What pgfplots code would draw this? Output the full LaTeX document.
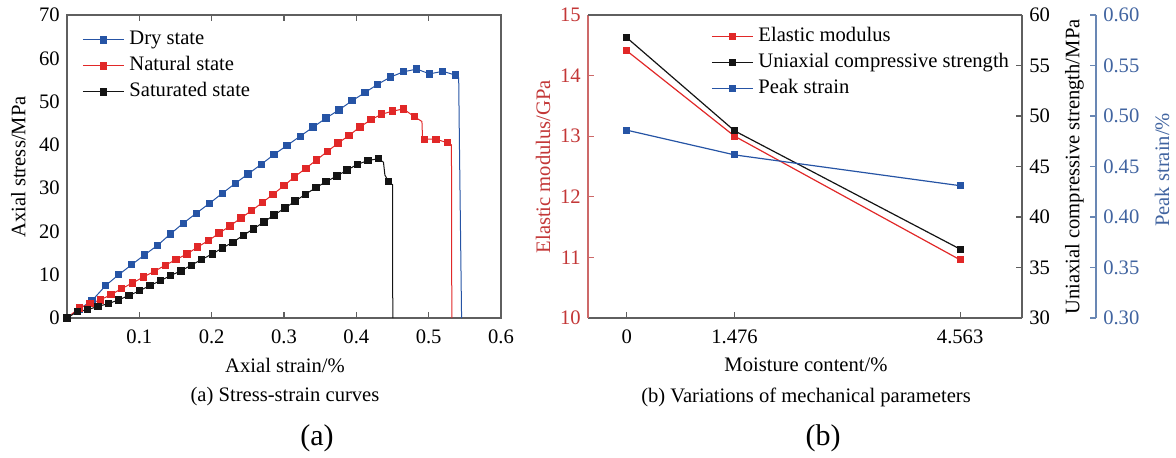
\documentclass[border=0pt]{standalone}
\usepackage{pgfplots}
\pgfplotsset{compat=1.18}
\usepackage{fontspec}
\setmainfont{Liberation Serif}
\definecolor{cblue}{RGB}{38,84,165}
\definecolor{cred}{RGB}{225,40,40}
\definecolor{cblack}{RGB}{20,20,20}
\definecolor{axgray}{RGB}{95,95,95}
\definecolor{axred}{RGB}{205,105,105}
\definecolor{axblue}{RGB}{105,135,180}
\definecolor{txtred}{RGB}{195,55,55}
\definecolor{txtblue}{RGB}{65,100,160}
\pgfplotsset{
  every axis/.append style={
    scale only axis, anchor=south west,
    /pgf/number format/assume math mode=true,
    tick label style={font=\fontsize{10.3}{12}\selectfont},
    xticklabel style={yshift=-2.5pt},
    axis line style={axgray, line width=0.6pt},
    tick style={axgray, line width=0.6pt},
    tick align=inside, major tick length=3pt,
    legend style={draw=none, fill=none, inner sep=0pt, font=\fontsize{10.3}{12}\selectfont,
      nodes={inner xsep=2.5pt, inner ysep=0pt, text height=7.5pt, text depth=2.5pt},
      row sep=3pt, anchor=west, legend cell align=left},
    legend image code/.code={\draw[mark repeat=2,mark phase=2,#1] plot coordinates {(0pt,0pt) (10.25pt,0pt) (20.5pt,0pt)};},
  },
}
\begin{document}
\fontsize{10.3}{12.4}\selectfont
\begin{tikzpicture}
\useasboundingbox (0,0) rectangle (588pt,228.5pt);
% ---------------- (a) ----------------
\begin{axis}[at={(33.5pt,69.5pt)}, width=217pt, height=151.5pt,
  xmin=0, xmax=0.6, ymin=0, ymax=70, clip=false,
  xtick={0.1,0.2,0.3,0.4,0.5,0.6}, ytick={0,10,20,30,40,50,60,70},
  ytick style={draw=none},
  legend style={at={(0.0346,0.832)}}]
\addlegendimage{cblue, line width=0.5pt, mark=square*, mark size=1.6pt, mark options={solid}}
\addlegendimage{cred, line width=0.5pt, mark=square*, mark size=1.6pt, mark options={solid}}
\addlegendimage{cblack, line width=0.5pt, mark=square*, mark size=1.6pt, mark options={solid}}
\addplot[cblue, line width=0.5pt, mark=square*, mark size=1.6pt, mark indices={1,...,31}, forget plot] coordinates {
(0,0) (0.017,2.1) (0.0345,4.0) (0.0534,7.5) (0.0714,10.0) (0.0893,12.3) (0.1073,14.6) (0.1253,16.8) (0.1428,19.4) (0.1607,21.9) (0.1787,24.2) (0.1971,26.5) (0.2146,28.8) (0.2326,31.1) (0.2505,33.3) (0.2685,35.5) (0.2864,37.8) (0.3044,39.9) (0.3224,42.0) (0.3403,44.1) (0.3583,46.2) (0.3762,48.1) (0.3942,50.2) (0.4121,52.1) (0.4296,54.0) (0.4476,55.7) (0.4656,56.9) (0.4835,57.5) (0.5015,56.4) (0.5194,57.0) (0.5374,56.1)
(0.5415,55.5) (0.5425,40.5) (0.5455,0)};
\addplot[cred, line width=0.5pt, mark=square*, mark size=1.6pt, mark indices={1,...,33,36,37,38}, forget plot] coordinates {
(0,0) (0.017,2.3) (0.032,3.3) (0.046,4.2) (0.061,5.4) (0.0755,6.8) (0.0907,8.1) (0.106,9.5) (0.121,10.8) (0.136,12.2) (0.1506,13.5) (0.166,14.8) (0.1805,16.4) (0.1957,17.9) (0.2104,19.6) (0.2256,21.3) (0.2404,23.1) (0.2551,24.8) (0.2703,26.7) (0.285,28.6) (0.3002,30.6) (0.3145,32.6) (0.3302,34.6) (0.3449,36.5) (0.3601,38.5) (0.3748,40.4) (0.39,42.2) (0.4048,44.1) (0.42,45.8) (0.4352,47.1) (0.4504,47.8) (0.4651,48.3) (0.4803,46.5)
(0.4907,45.4) (0.4915,41.6)
(0.4946,41.3) (0.5102,41.3) (0.5259,40.5)
(0.5315,40.0) (0.532,0)};
\addplot[cblack, line width=0.5pt, mark=square*, mark size=1.6pt, mark indices={1,...,31,34}, forget plot] coordinates {
(0,0) (0.0147,1.5) (0.0286,1.9) (0.0428,2.7) (0.0571,3.3) (0.0714,4.2) (0.0857,5.2) (0.1004,6.3) (0.1147,7.5) (0.1289,8.6) (0.1432,9.8) (0.1575,10.9) (0.1718,12.2) (0.186,13.5) (0.2008,14.8) (0.215,16.2) (0.2293,17.5) (0.2436,19.1) (0.2579,20.6) (0.2722,22.2) (0.2864,23.8) (0.3012,25.4) (0.3154,27.0) (0.3297,28.6) (0.344,30.1) (0.3583,31.5) (0.373,32.8) (0.3873,34.2) (0.4016,35.5) (0.4163,36.4) (0.4306,36.8)
(0.4375,36.0) (0.4395,33.0)
(0.4444,31.6)
(0.4500,30.8) (0.4504,0)};
\legend{Dry state, Natural state, Saturated state}
\end{axis}
% ---------------- (b) ----------------
\begin{axis}[at={(294pt,69.5pt)}, width=217pt, height=151.5pt,
  xmin=-0.53, xmax=5.41, ymin=10, ymax=15,
  axis x line*=bottom, axis y line*=left,
  xtick={0,1.476,4.563}, xticklabels={0,1.476,4.563},
  ytick={10,11,12,13,14,15},
  y axis line style={axred}, ytick style={axred}, yticklabel style={text=txtred},
  legend style={at={(0.283,0.843)}}]
\addlegendimage{cred, line width=0.6pt, mark=square*, mark size=1.5pt, mark options={solid}}
\addlegendimage{cblack, line width=0.6pt, mark=square*, mark size=1.5pt, mark options={solid}}
\addlegendimage{cblue, line width=0.6pt, mark=square*, mark size=1.5pt, mark options={solid}}
\addplot[cred, line width=0.6pt, mark=square*, mark size=1.5pt, forget plot] coordinates {(0,14.41) (1.476,13.0) (4.563,10.96)};
\legend{Elastic modulus, Uniaxial compressive strength, Peak strain}
\end{axis}
\begin{axis}[at={(294pt,69.5pt)}, width=217pt, height=151.5pt,
  xmin=-0.53, xmax=5.41, ymin=30, ymax=60,
  axis x line*=top, xtick=\empty, axis y line*=right,
  ytick={30,35,40,45,50,55,60}]
\addplot[cblack, line width=0.6pt, mark=square*, mark size=1.5pt] coordinates {(0,57.76) (1.476,48.53) (4.563,36.82)};
\end{axis}
\begin{axis}[at={(294pt,69.5pt)}, width=217pt, height=151.5pt,
  xmin=-0.53, xmax=5.41, ymin=0.3, ymax=0.6,
  hide x axis, axis y line*=right, axis y line shift=37pt,
  ytick={0.30,0.35,0.40,0.45,0.50,0.55,0.60},
  y axis line style={axblue}, ytick style={axblue},
  yticklabel style={text=txtblue, /pgf/number format/.cd, fixed, fixed zerofill, precision=2}]
\addplot[cblue, line width=0.6pt, mark=square*, mark size=1.5pt] coordinates {(0,0.486) (1.476,0.4615) (4.563,0.431)};
\end{axis}
% ---------------- labels ----------------
\node[rotate=90] at (9.2pt,145pt) {Axial stress/MPa};
\node at (142.5pt,46pt) {Axial strain/\%};
\node at (142.5pt,30.2pt) {(a) Stress-strain curves};
\node[font=\fontsize{15}{18}\selectfont] at (158.5pt,9.5pt) {(a)};
\node[rotate=90,text=txtred] at (271.5pt,145.2pt) {Elastic modulus/GPa};
\node[rotate=90] at (537.2pt,145pt) {Uniaxial compressive strength/MPa};
\node[rotate=90,text=txtblue] at (581.1pt,143.5pt) {Peak strain/\%};
\node at (403pt,46pt) {Moisture content/\%};
\node at (403pt,30pt) {(b) Variations of mechanical parameters};
\node[font=\fontsize{15}{18}\selectfont] at (411.5pt,9.5pt) {(b)};
\end{tikzpicture}
\end{document}
